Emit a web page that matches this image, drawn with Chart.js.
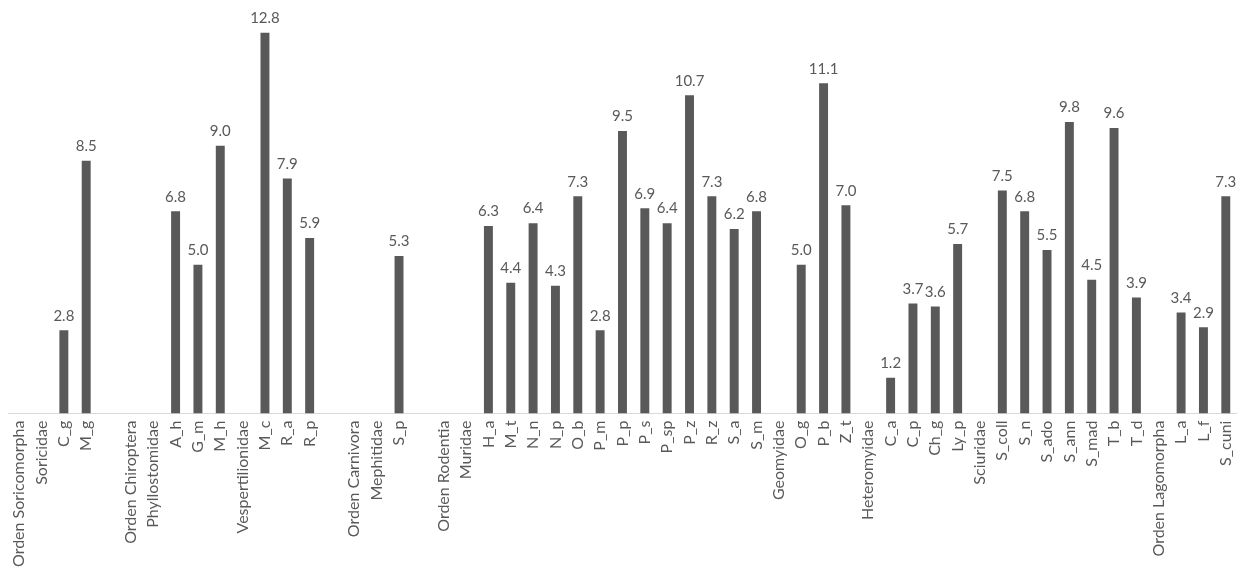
<!DOCTYPE html>
<html>
<head>
<meta charset="utf-8">
<script src="https://cdn.jsdelivr.net/npm/chart.js@4"></script>
<style>
  html, body { margin: 0; padding: 0; background: #fff; }
  #wrap { width: 1252px; height: 577px; position: relative; }
</style>
</head>
<body>
<div id="wrap"><canvas id="chart"></canvas></div>
<script>
// Categories along the axis (orders, families and species); '' = spacer
const categories = [
  'Orden Soricomorpha', 'Soricidae', 'C_g', 'M_g', '',
  'Orden Chiroptera', 'Phyllostomidae', 'A_h', 'G_m', 'M_h',
  'Vespertilionidae', 'M_c', 'R_a', 'R_p', '',
  'Orden Carnivora', 'Mephitidae', 'S_p', '',
  'Orden Rodentia', 'Muridae', 'H_a', 'M_t', 'N_n', 'N_p', 'O_b', 'P_m',
  'P_p', 'P_s', 'P_sp', 'P_z', 'R_z', 'S_a', 'S_m',
  'Geomyidae', 'O_g', 'P_b', 'Z_t',
  'Heteromyidae', 'C_a', 'C_p', 'Ch_g', 'Ly_p',
  'Sciuridae', 'S_coll', 'S_n', 'S_ado', 'S_ann', 'S_mad', 'T_b', 'T_d',
  'Orden Lagomorpha', 'L_a', 'L_f', 'S_cuni'
];

// Values per category (null where the label is a group heading)
const values = [
  null, null, 2.8, 8.5, null,
  null, null, 6.8, 5.0, 9.0,
  null, 12.8, 7.9, 5.9, null,
  null, null, 5.3, null,
  null, null, 6.3, 4.4, 6.4, 4.3, 7.3, 2.8,
  9.5, 6.9, 6.4, 10.7, 7.3, 6.2, 6.8,
  null, 5.0, 11.1, 7.0,
  null, 1.2, 3.7, 3.6, 5.7,
  null, 7.5, 6.8, 5.5, 9.8, 4.5, 9.6, 3.9,
  null, 3.4, 2.9, 7.3
];

const TEXT = '#595959';

// value labels above each bar
const valueLabels = {
  id: 'valueLabels',
  afterDatasetsDraw(chart) {
    const ctx = chart.ctx;
    const meta = chart.getDatasetMeta(0);
    ctx.save();
    ctx.font = '15px Lato, "Open Sans", sans-serif';
    ctx.fillStyle = TEXT;
    ctx.textAlign = 'center';
    ctx.textBaseline = 'bottom';
    meta.data.forEach((bar, i) => {
      const v = values[i];
      if (v == null) return;
      ctx.fillText(v.toFixed(1), bar.x, bar.y - 7);
    });
    ctx.restore();
  }
};

new Chart(document.getElementById('chart'), {
  type: 'bar',
  data: {
    labels: categories,
    datasets: [{
      data: values,
      backgroundColor: '#595959',
      barPercentage: 0.4,
      categoryPercentage: 1.0
    }]
  },
  options: {
    responsive: true,
    maintainAspectRatio: false,
    animation: false,
    layout: { padding: { left: 8, right: 2, top: 0, bottom: 3 } },
    plugins: { legend: { display: false }, tooltip: { enabled: false } },
    scales: {
      x: {
        grid: { display: false, drawTicks: false },
        border: { color: '#d9d9d9', width: 1 },
        ticks: {
          color: TEXT,
          autoSkip: false,
          minRotation: 90,
          maxRotation: 90,
          padding: 7,
          font: { family: 'Lato, "Open Sans", sans-serif', size: 16 }
        }
      },
      y: {
        display: false,
        min: 0,
        max: 13.9
      }
    }
  },
  plugins: [valueLabels]
});
</script>
</body>
</html>
